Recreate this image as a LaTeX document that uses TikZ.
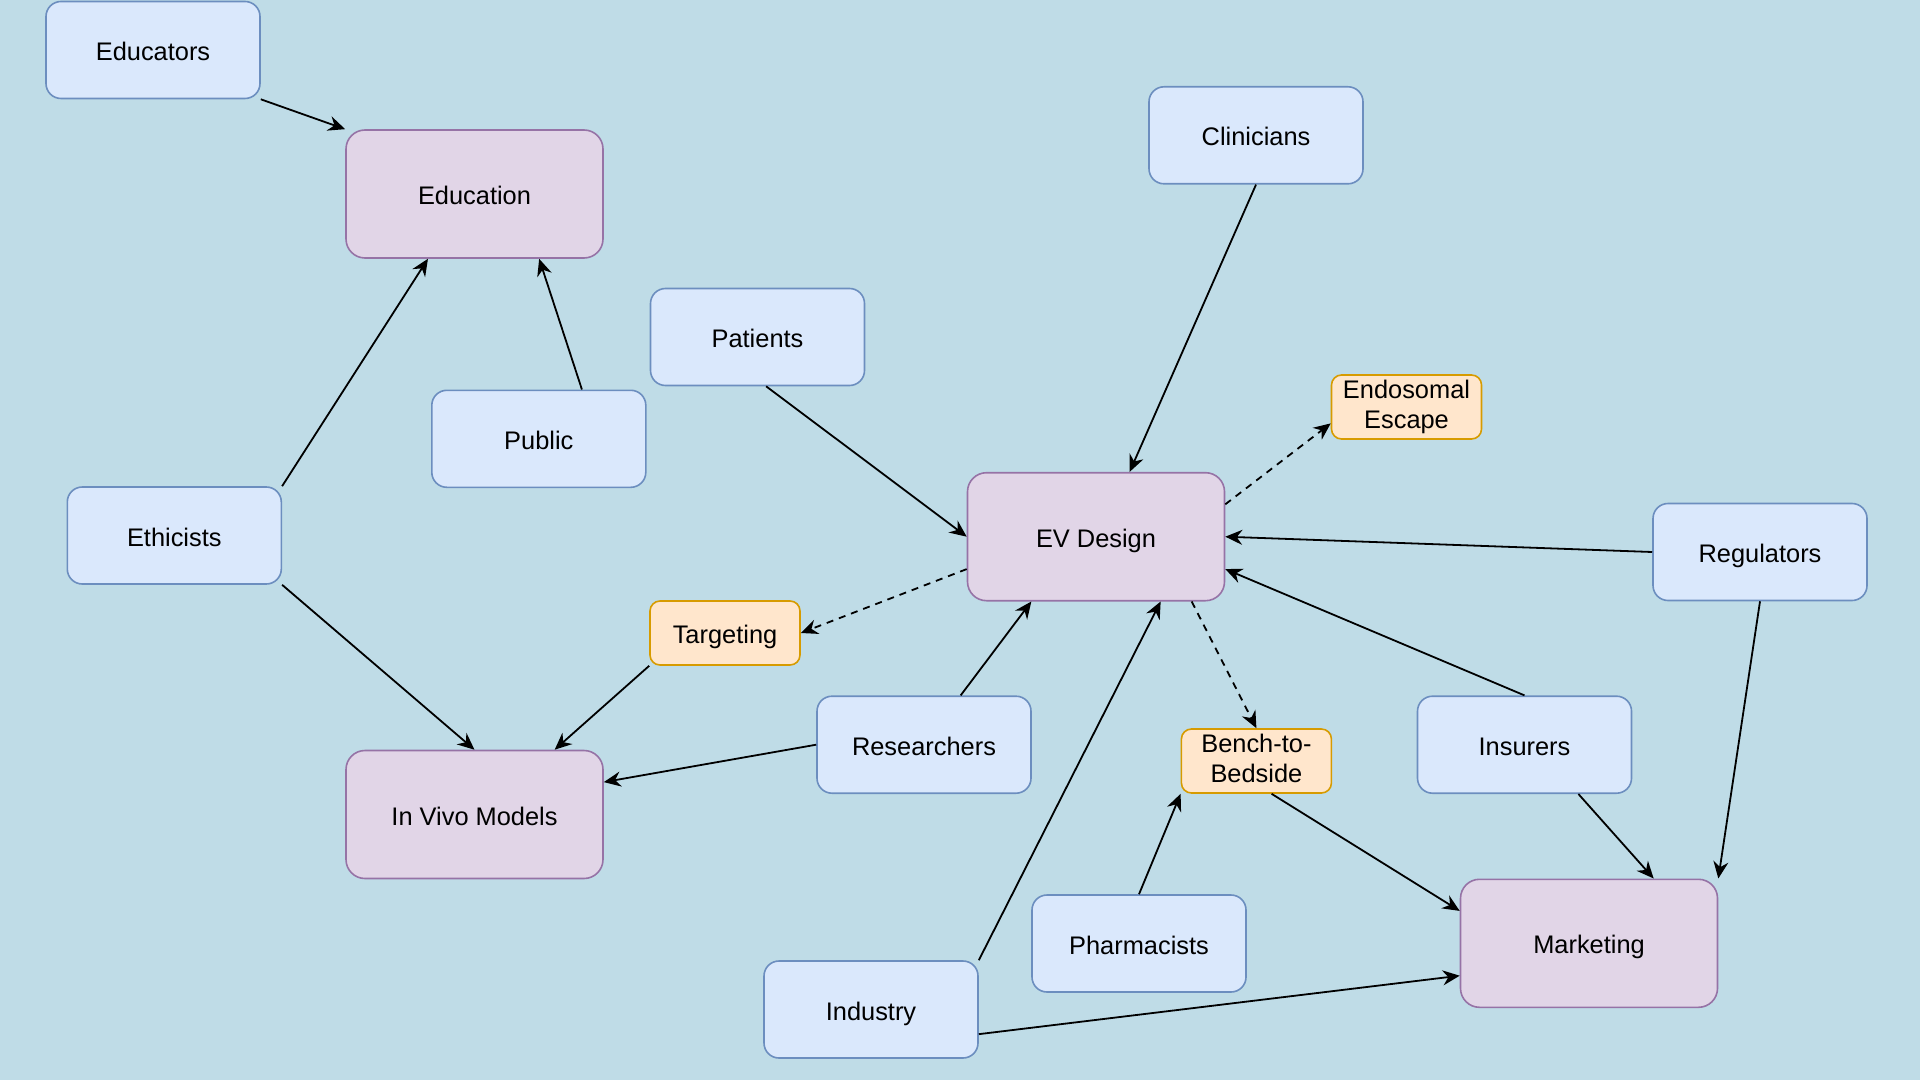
\documentclass[tikz,border=0pt]{standalone}
\usepackage{fontspec}
\setmainfont{Liberation Sans}
\usetikzlibrary{arrows.meta,calc}
\definecolor{bgc}{HTML}{BFDCE7}
\definecolor{blueF}{HTML}{DAE8FC}
\definecolor{blueD}{HTML}{6C8EBF}
\definecolor{purF}{HTML}{E1D5E7}
\definecolor{purD}{HTML}{9673A6}
\definecolor{orF}{HTML}{FFE6CC}
\definecolor{orD}{HTML}{D79B00}
\begin{document}
\begin{tikzpicture}[x=0.5pt,y=-0.5pt,
  base/.style={inner sep=0pt, line width=0.8pt, text=black, font=\fontsize{12.7}{15}\selectfont, align=center,
    execute at begin node={\rule[-0.21em]{0pt}{1.25em}},
    execute at end node={\rule[-0.21em]{0pt}{0.21em}}},
  actor/.style={base, draw=blueD, fill=blueF, rounded corners=7.5pt, minimum width=107pt, minimum height=48.5pt},
  topic/.style={base, draw=purD, fill=purF, rounded corners=9.5pt, minimum width=128.5pt, minimum height=64pt},
  concept/.style={base, draw=orD, fill=orF, rounded corners=5pt, minimum width=75pt, minimum height=32pt},
  link/.style={-{Stealth[length=8.5pt,width=7.5pt,inset=2.8pt]}, line width=0.9pt, black},
  dlink/.style={link, dash pattern=on 3.5pt off 3pt}]
\fill[bgc] (0,0) rectangle (1920,1080);
\useasboundingbox (0,0) rectangle (1920,1080);

\node[actor] (educators) at (153,50) {Educators};
\node[topic] (education) at (474.5,194) {Education};
\node[actor] (clinicians) at (1256,135.3) {Clinicians};
\node[actor] (patients) at (757.5,337) {Patients};
\node[actor] (public) at (538.8,438.8) {Public};
\node[concept] (endo) at (1406.5,407) {Endosomal\\Escape};
\node[topic] (ev) at (1096,536.7) {EV Design};
\node[actor] (ethicists) at (174.3,535.5) {Ethicists};
\node[actor] (regulators) at (1760,552) {Regulators};
\node[concept] (targeting) at (725,633) {Targeting};
\node[actor] (researchers) at (924,744.7) {Researchers};
\node[concept] (bench) at (1256.4,761) {Bench-to-\\Bedside};
\node[actor] (insurers) at (1524.5,744.7) {Insurers};
\node[topic] (invivo) at (474.5,814.5) {In Vivo Models};
\node[topic] (marketing) at (1589,943.3) {Marketing};
\node[actor] (pharmacists) at (1139,943.5) {Pharmacists};
\node[actor] (industry) at (871,1009.5) {Industry};

% edges
\draw[link] (educators.south east) -- (education.north west);
\draw[link] (ethicists.north east) -- ($(education.south west)!0.32!(education.south east)$);
\draw[link] ($(public.north west)!0.70!(public.north east)$) -- ($(education.south west)!0.75!(education.south east)$);
\draw[link] ($(patients.south west)!0.54!(patients.south east)$) -- (ev.west);
\draw[link] (clinicians.south) -- ($(ev.north west)!0.63!(ev.north east)$);
\draw[dlink] ($(ev.north east)!0.25!(ev.south east)$) -- ($(endo.north west)!0.75!(endo.south west)$);
\draw[link] (regulators.west) -- (ev.east);
\draw[link] (insurers.north) -- ($(ev.north east)!0.75!(ev.south east)$);
\draw[dlink] ($(ev.north west)!0.75!(ev.south west)$) -- (targeting.east);
\draw[link] ($(researchers.north west)!0.67!(researchers.north east)$) -- ($(ev.south west)!0.25!(ev.south east)$);
\draw[link] (industry.north east) -- ($(ev.south west)!0.75!(ev.south east)$);
\draw[dlink] ($(ev.south west)!0.87!(ev.south east)$) -- (bench.north);
\draw[link] (pharmacists.north) -- (bench.south west);
\draw[link] ($(bench.south west)!0.6!(bench.south east)$) -- ($(marketing.north west)!0.25!(marketing.south west)$);
\draw[link] ($(industry.north east)!0.75!(industry.south east)$) -- ($(marketing.north west)!0.75!(marketing.south west)$);
\draw[link] ($(insurers.south west)!0.75!(insurers.south east)$) -- ($(marketing.north west)!0.75!(marketing.north east)$);
\draw[link] (regulators.south) -- (marketing.north east);
\draw[link] (ethicists.south east) -- (invivo.north);
\draw[link] (targeting.south west) -- ($(invivo.north west)!0.81!(invivo.north east)$);
\draw[link] (researchers.west) -- ($(invivo.north east)!0.25!(invivo.south east)$);
\end{tikzpicture}
\end{document}
